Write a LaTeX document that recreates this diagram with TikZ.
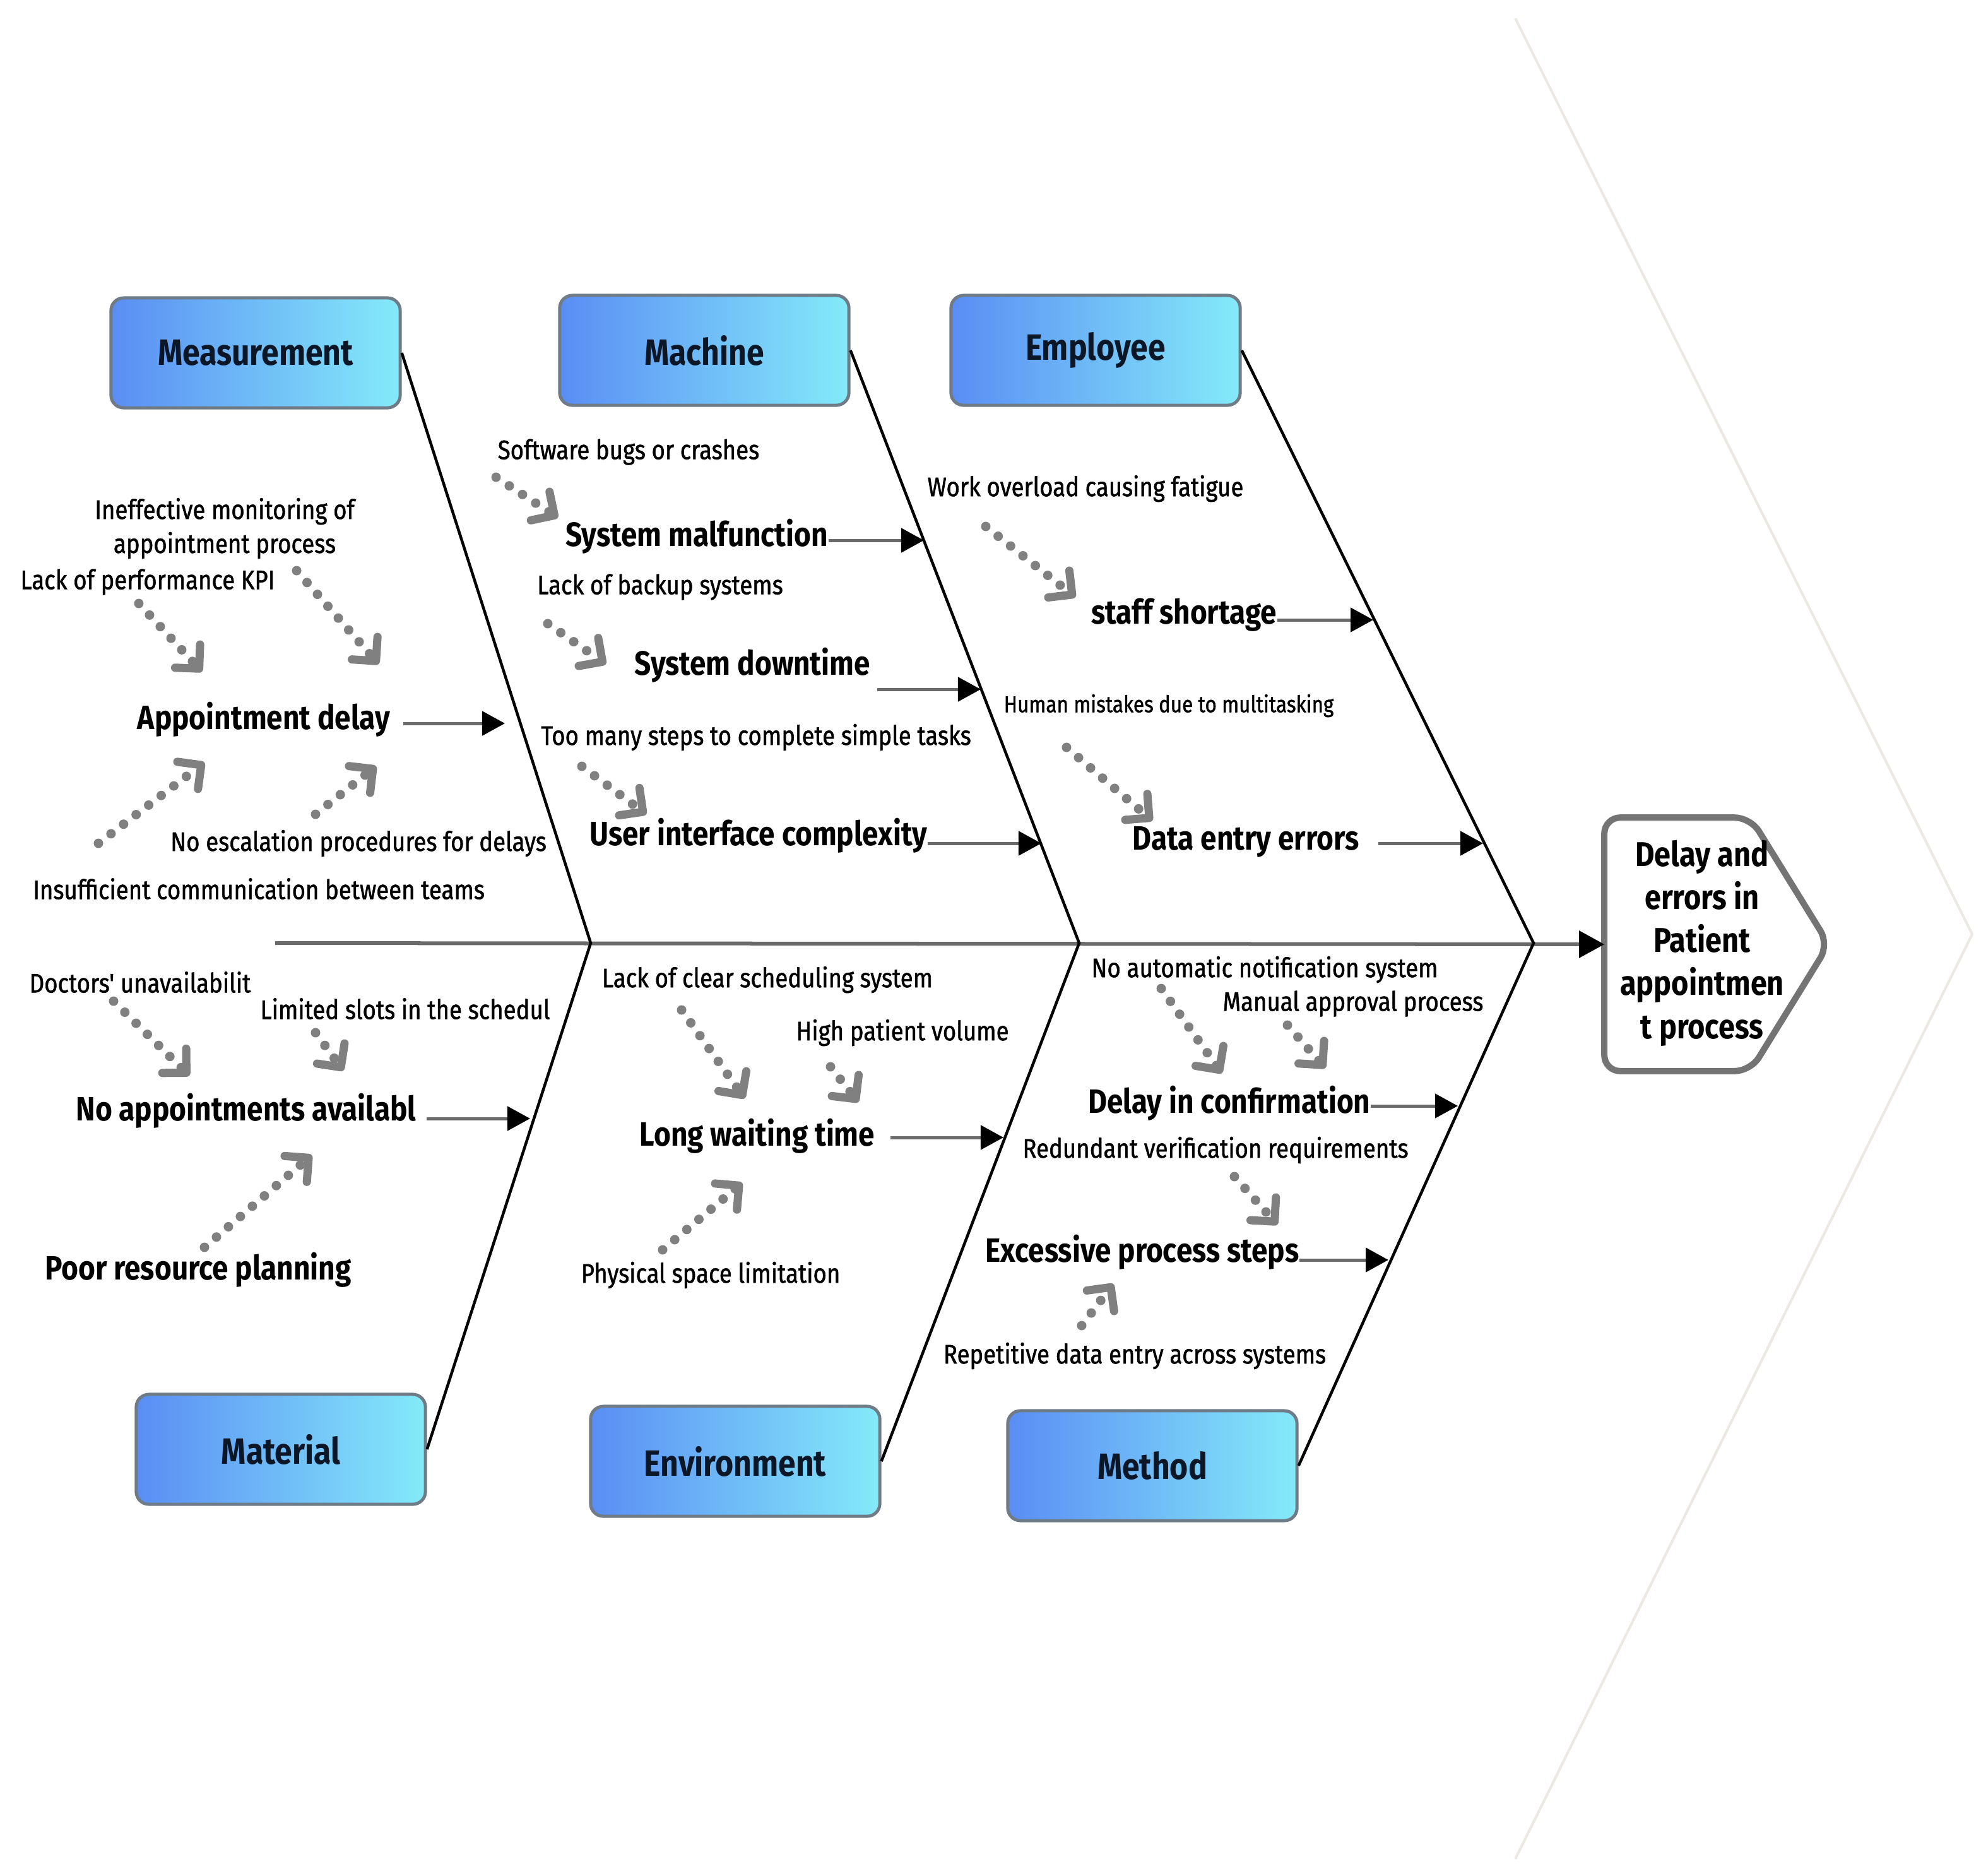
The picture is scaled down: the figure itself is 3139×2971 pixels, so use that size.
\documentclass[tikz,border=0pt]{standalone}
\usepackage{fontspec}
\setmainfont[FakeStretch=0.86]{Fira Sans}
\newfontfamily\subfont[FakeStretch=0.86,FakeBold=1.2]{Fira Sans}
\usetikzlibrary{arrows.meta}
\definecolor{boxL}{HTML}{5A8DF4}
\definecolor{boxR}{HTML}{84EAF9}
\definecolor{boxE}{HTML}{6F7C88}
\definecolor{boxT}{HTML}{0B1626}
\definecolor{dotc}{HTML}{808080}
\definecolor{spinec}{HTML}{6A6A6A}
\definecolor{headE}{HTML}{747474}
\definecolor{faint}{HTML}{ECE8E2}
\begin{document}
\begin{tikzpicture}[x=0.01cm,y=-0.01cm,
 cat/.style={draw=boxE, line width=0.05cm, rounded corners=0.2cm, left color=boxL, right color=boxR,
   minimum width=4.58cm, minimum height=1.74cm, font=\fontsize{16.5}{18}\selectfont\bfseries, text=boxT},
 cause/.style={font=\fontsize{15.2}{17}\selectfont\bfseries, inner sep=0pt},
 sub/.style={font=\subfont\fontsize{12.1}{15.3}\selectfont, inner sep=0pt, align=center},
 bone/.style={line width=0.045cm, black},
 carrow/.style={line width=0.05cm, draw=spinec, -{Triangle[length=0.36cm,width=0.38cm,black]}},
 spine/.style={line width=0.06cm, draw=spinec, -{Triangle[length=0.4cm,width=0.42cm,black]}},
 dotarrow/.style={dotc, line width=0.15cm, line cap=round, dash pattern=on 0pt off 0.25cm,
   -{Straight Barb[length=0.27cm,width=0.54cm,line width=0.13cm,round]}},
]
\useasboundingbox (0,0) rectangle (3139,2971);
\fill[white] (0,0) rectangle (3139,2971);
% faint background chevron
\draw[faint, line width=0.04cm] (2401,29) -- (3125,1480) -- (2401,2945);

% category boxes
\node[cat] (meas) at (405,559) {Measurement};
\node[cat] (mach) at (1116,555) {Machine};
\node[cat] (empl) at (1736,555) {Employee};
\node[cat] (matl) at (445,2296) {Material};
\node[cat] (envi) at (1165,2315) {Environment};
\node[cat] (meth) at (1826,2322) {Method};

% head
\node[inner sep=0, minimum width=3.54cm, minimum height=4.0cm] (headbox) at (2720,1496) {};
\draw[headE, line width=0.1cm, rounded corners=0.25cm, fill=white]
  (headbox.north west) -- ([xshift=-1.24cm]headbox.north east) -- (headbox.east)
  -- ([xshift=-1.24cm]headbox.south east) -- (headbox.south west) -- cycle;
\node[font=\fontsize{15.5}{19.4}\selectfont\bfseries, align=center, inner sep=0] (head) at (2697,1494)
  {Delay and\\errors in\\Patient\\appointmen\\t process};

% spine and bones
\coordinate (s0) at (436,1494);
\coordinate (j1) at (936,1494);
\coordinate (j2) at (1710,1494);
\coordinate (j3) at (2430,1494);
\draw[spine] (s0) -- (headbox.west);
\draw[bone] (meas.east) -- (j1) -- (matl.east);
\draw[bone] (mach.east) -- (j2) -- (envi.east);
\draw[bone] (empl.east) -- (j3) -- (meth.east);

% ---------- Measurement ----------
\node[cause] (ca1) at (418,1140) {Appointment delay};
\coordinate (ca1t) at (800,1146);
\draw[carrow, shorten <=0.2cm] (ca1.east |- ca1t) -- (ca1t);
\node[sub] (ma) at (356,837) {Ineffective monitoring of\\appointment process};
\node[sub] (mb) at (234,922) {Lack of performance KPI};
\node[sub] (mc) at (568,1336) {No escalation procedures for delays};
\node[sub] (md) at (410,1408) {Insufficient communication between teams};
\coordinate (ma1) at (470,904); \coordinate (ma2) at (600,1052);
\coordinate (mb1) at (220,956); \coordinate (mb2) at (320,1064);
\coordinate (md1) at (156,1336); \coordinate (md2) at (324,1208);
\coordinate (mc1) at (500,1290); \coordinate (mc2) at (596,1214);
\draw[dotarrow] (ma1) -- (ma2);
\draw[dotarrow] (mb1) -- (mb2);
\draw[dotarrow] (md1) -- (md2);
\draw[dotarrow] (mc1) -- (mc2);

% ---------- Machine ----------
\node[cause] (cb1) at (1104,850) {System malfunction};
\coordinate (cb1t) at (1464,856);
\draw[carrow] (cb1.east |- cb1t) -- (cb1t);
\node[cause] (cb2) at (1192,1054) {System downtime};
\coordinate (cb2t) at (1554,1092);
\draw[carrow, shorten <=0.1cm] (cb2.east |- cb2t) -- (cb2t);
\node[cause] (cb3) at (1202,1324) {User interface complexity};
\coordinate (cb3t) at (1650,1336);
\draw[carrow] (cb3.east |- cb3t) -- (cb3t);
\node[sub] (na) at (996,716) {Software bugs or crashes};
\node[sub] (nb) at (1046,930) {Lack of backup systems};
\node[sub] (nc) at (1198,1168) {Too many steps to complete simple tasks};
\coordinate (na1) at (786,756); \coordinate (na2) at (884,820);
\coordinate (nb1) at (868,988); \coordinate (nb2) at (960,1052);
\coordinate (nc1) at (922,1214); \coordinate (nc2) at (1024,1290);
\draw[dotarrow] (na1) -- (na2);
\draw[dotarrow] (nb1) -- (nb2);
\draw[dotarrow] (nc1) -- (nc2);

% ---------- Employee ----------
\node[cause] (cc1) at (1876,974) {staff shortage};
\coordinate (cc1t) at (2176,982);
\draw[carrow] (cc1.east |- cc1t) -- (cc1t);
\node[cause] (cc2) at (1974,1334) {Data entry errors};
\coordinate (cc2t) at (2350,1336);
\draw[carrow, shorten <=0.3cm] (cc2.east |- cc2t) -- (cc2t);
\node[sub] (ea) at (1720,774) {Work overload causing fatigue};
\node[sub, font=\subfont\fontsize{10.4}{13}\selectfont] (eb) at (1852,1118) {Human mistakes due to multitasking};
\coordinate (ea1) at (1562,834); \coordinate (ea2) at (1704,946);
\coordinate (eb1) at (1690,1184); \coordinate (eb2) at (1826,1300);
\draw[dotarrow] (ea1) -- (ea2);
\draw[dotarrow] (eb1) -- (eb2);

% ---------- Material ----------
\node[cause] (cd1) at (390,1760) {No appointments availabl};
\coordinate (cd1t) at (840,1772);
\draw[carrow, shorten <=0.16cm] (cd1.east |- cd1t) -- (cd1t);
\node[cause] (cd2) at (314,2012) {Poor resource planning};
\node[sub] (ta) at (222,1556) {Doctors' unavailabilit};
\node[sub] (tb) at (642,1598) {Limited slots in the schedul};
\coordinate (ta1) at (180,1586); \coordinate (ta2) at (300,1704);
\coordinate (tb1) at (500,1636); \coordinate (tb2) at (544,1696);
\coordinate (tc1) at (324,1976); \coordinate (tc2) at (494,1830);
\draw[dotarrow] (ta1) -- (ta2);
\draw[dotarrow] (tb1) -- (tb2);
\draw[dotarrow] (tc1) -- (tc2);

% ---------- Environment ----------
\node[cause] (ce1) at (1200,1800) {Long waiting time};
\coordinate (ce1t) at (1590,1802);
\draw[carrow, shorten <=0.24cm] (ce1.east |- ce1t) -- (ce1t);
\node[sub] (va) at (1216,1552) {Lack of clear scheduling system};
\node[sub] (vb) at (1430,1636) {High patient volume};
\node[sub] (vc) at (1126,2020) {Physical space limitation};
\coordinate (va1) at (1080,1600); \coordinate (va2) at (1180,1740);
\coordinate (vb1) at (1316,1690); \coordinate (vb2) at (1360,1746);
\coordinate (vc1) at (1050,1980); \coordinate (vc2) at (1176,1874);
\draw[dotarrow] (va1) -- (va2);
\draw[dotarrow] (vb1) -- (vb2);
\draw[dotarrow] (vc1) -- (vc2);

% ---------- Method ----------
\node[cause] (cf1) at (1948,1748) {Delay in confirmation};
\coordinate (cf1t) at (2310,1752);
\draw[carrow] (cf1.east |- cf1t) -- (cf1t);
\node[cause] (cf2) at (1810,1984) {Excessive process steps};
\coordinate (cf2t) at (2200,1996);
\draw[carrow] (cf2.east |- cf2t) -- (cf2t);
\node[sub] (wa) at (2004,1536) {No automatic notification system};
\node[sub] (wb) at (2144,1590) {Manual approval process};
\node[sub] (wc) at (1926,1822) {Redundant verification requirements};
\node[sub] (wd) at (1798,2148) {Repetitive data entry across systems};
\coordinate (wa1) at (1840,1566); \coordinate (wa2) at (1936,1700);
\coordinate (wb1) at (2040,1624); \coordinate (wb2) at (2100,1692);
\coordinate (wc1) at (1956,1864); \coordinate (wc2) at (2024,1940);
\coordinate (wd1) at (1714,2100); \coordinate (wd2) at (1764,2034);
\draw[dotarrow] (wa1) -- (wa2);
\draw[dotarrow] (wb1) -- (wb2);
\draw[dotarrow] (wc1) -- (wc2);
\draw[dotarrow] (wd1) -- (wd2);
\end{tikzpicture}
\end{document}
